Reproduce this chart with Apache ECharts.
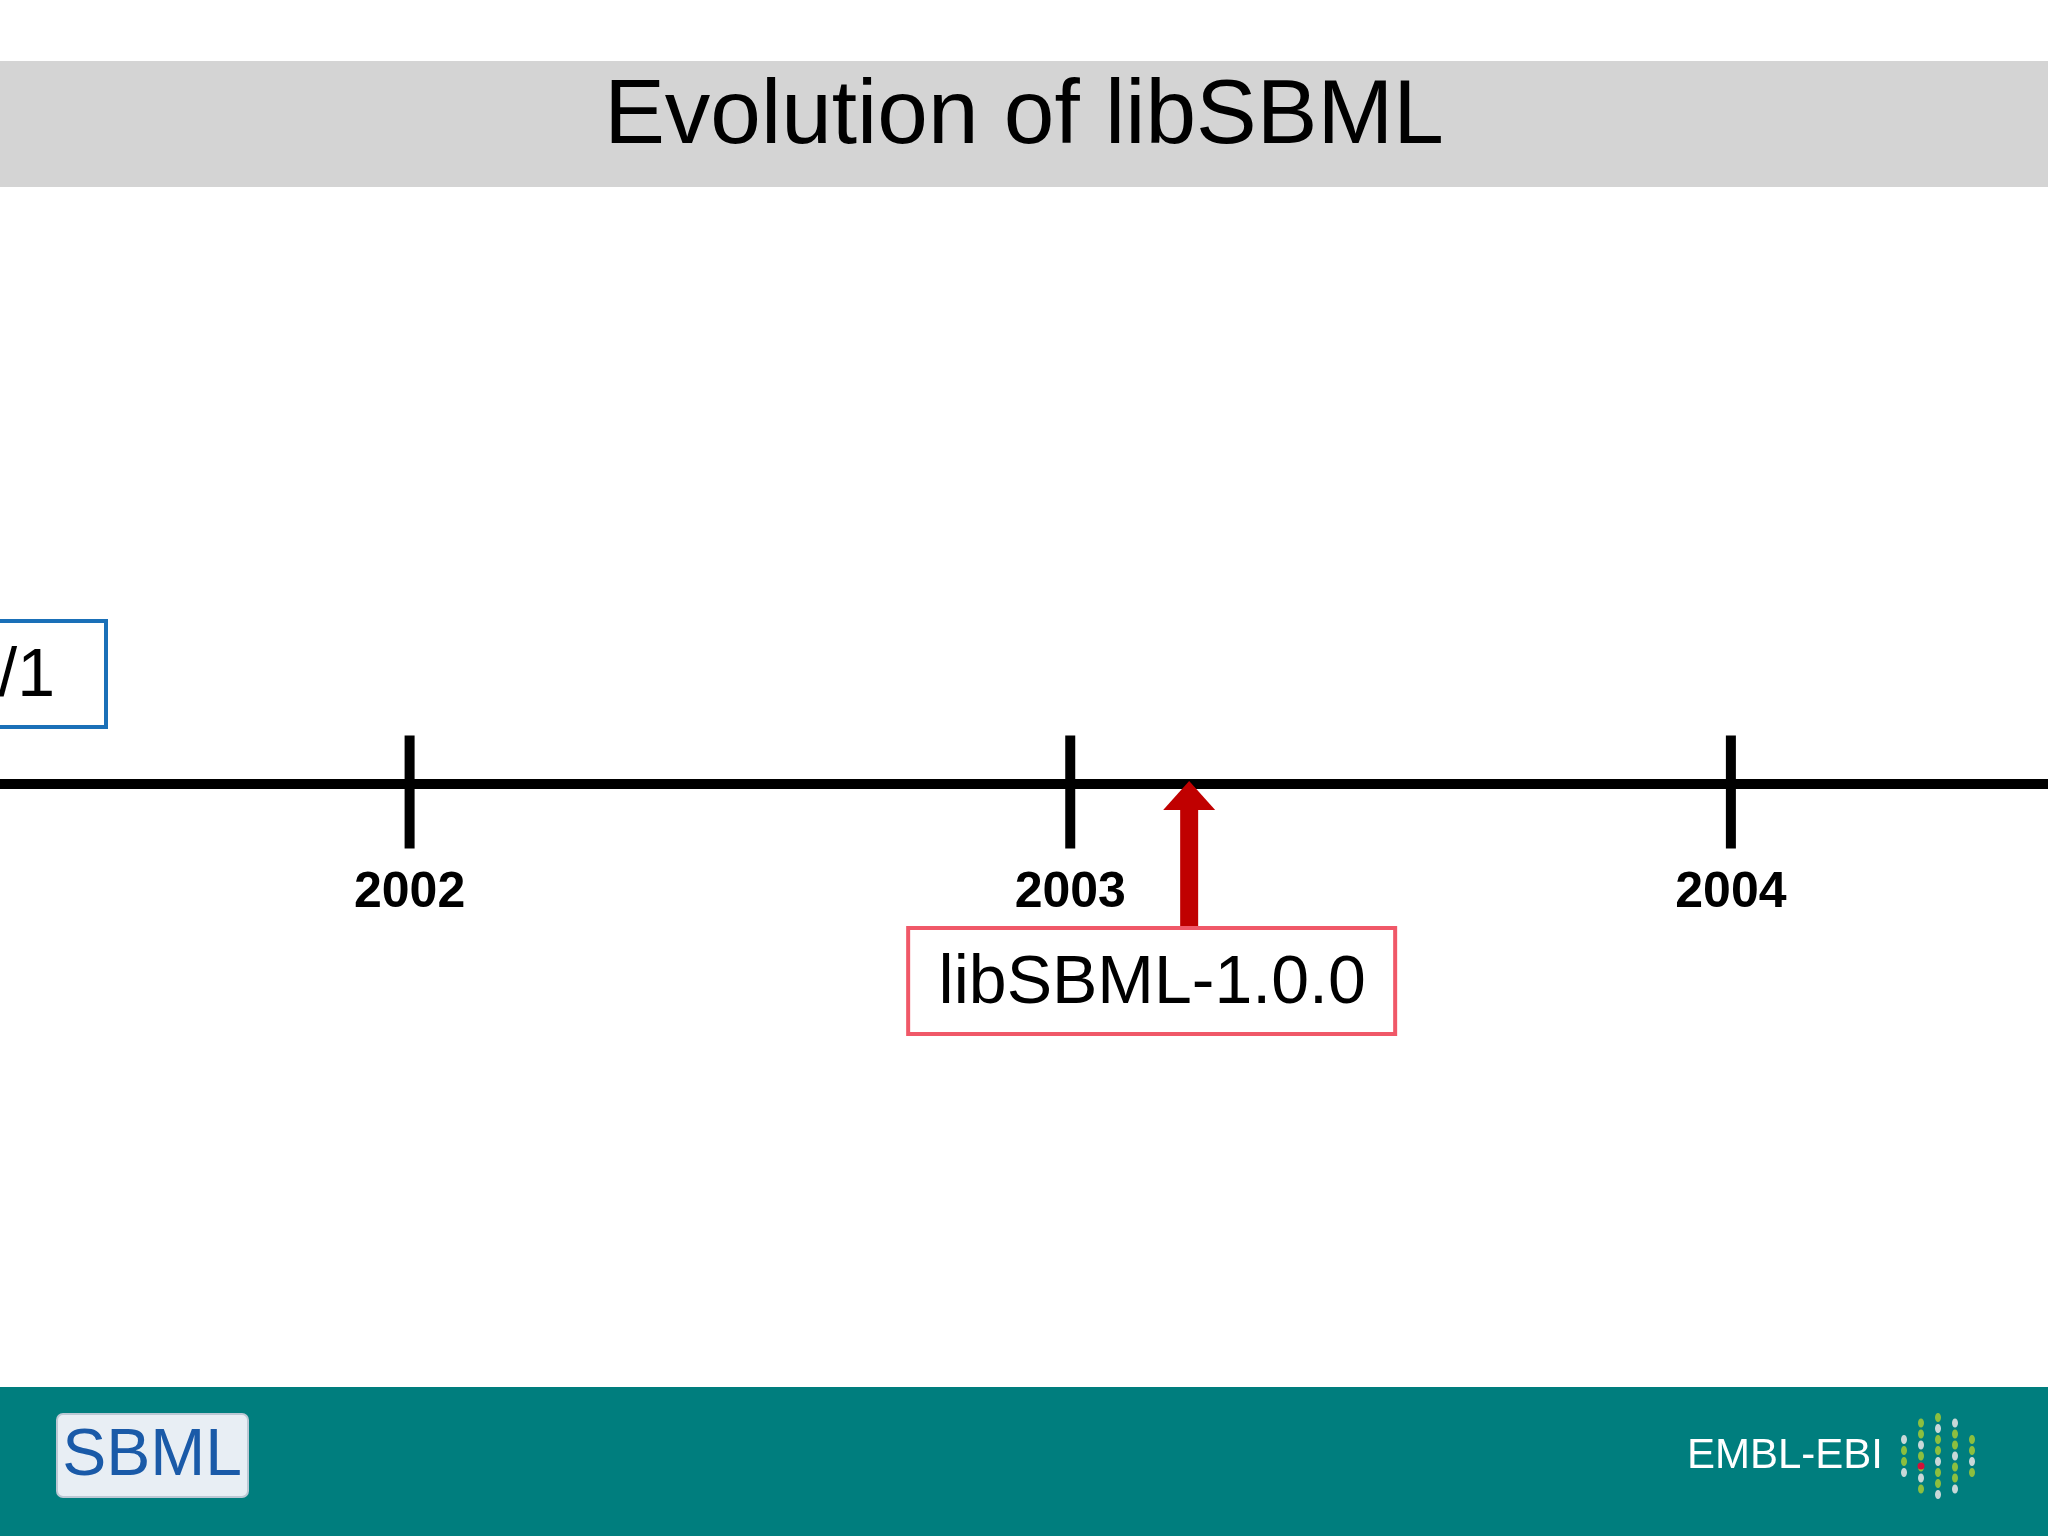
<!DOCTYPE html>
<html><head><meta charset="utf-8">
<script src="https://cdn.jsdelivr.net/npm/echarts@6/dist/echarts.min.js"></script>
<style>html,body{margin:0;padding:0;background:#fff}#c{width:2048px;height:1536px}</style>
</head><body><div id="c"></div>
<script>
const years = [2002, 2003, 2004];
const yearLabels = ['2002', '2003', '2004'];
const events = [
  { name: 'libSBML-1.0.0', year: 2003.18 }
];
const earlyEvent = { name: 'SBML L1/1', year: 2001.3 };
const title = 'Evolution of libSBML';

const chart = echarts.init(document.getElementById('c'));
const dots = [];
const cols = [4, 7, 8, 7, 4];
for (let c = 0; c < 5; c++) {
  const n = cols[c];
  for (let r = 0; r < n; r++) {
    const sp = 11;
    const h = n * sp;
    dots.push({ type: 'ellipse', shape: { cx: 1904 + c * 17, cy: 1456 - h / 2 + r * sp + sp / 2, rx: 3, ry: 4.5 },
      style: { fill: (c + r) % 3 === 0 ? '#c8d8d8' : '#8cbf3f' } });
  }
}
dots.push({ type: 'circle', shape: { cx: 1921, cy: 1466, r: 3.5 }, style: { fill: '#d0103a' } });

chart.setOption({
  animation: false,
  backgroundColor: '#fff',
  grid: { left: 0, right: 0, top: 32, bottom: 0 },
  xAxis: { type: 'value', min: 2001.38, max: 2004.48, axisLine: { show: true, onZero: true, lineStyle: { color: '#000', width: 10 } },
    axisTick: { show: false }, axisLabel: { show: false }, splitLine: { show: false } },
  yAxis: { type: 'value', min: -1, max: 1, show: false },
  graphic: [
    { type: 'rect', shape: { x: 0, y: 61, width: 2048, height: 126 }, style: { fill: '#d4d4d4' } },
    { type: 'text', x: 1024, y: 118, style: { text: title, font: '91px "Liberation Sans", Arial', fill: '#000', align: 'center', verticalAlign: 'middle' } },
    { type: 'rect', shape: { x: 0, y: 1387, width: 2048, height: 149 }, style: { fill: '#007e7e' } },
    { type: 'rect', shape: { x: 57, y: 1414, width: 191, height: 83, r: 6 }, style: { fill: '#e8eef4', stroke: '#bcc8d4', lineWidth: 2 } },
    { type: 'text', x: 152, y: 1457, style: { text: 'SBML', font: '66px "Liberation Sans"', fill: '#1a5aa8', align: 'center', verticalAlign: 'middle' } },
    { type: 'text', x: 1883, y: 1456, style: { text: 'EMBL-EBI', font: '42px "Liberation Sans"', fill: '#fff', align: 'right', verticalAlign: 'middle' } },
    ...dots
  ],
  series: [
    { type: 'scatter', data: years.map((y, i) => ({ value: [y, 0], label: { formatter: yearLabels[i] } })),
      symbol: 'rect', symbolSize: [10, 113], symbolOffset: [0, 8], itemStyle: { color: '#000', opacity: 1 },
      label: { show: true, position: 'bottom', distance: 20, color: '#000', fontSize: 50, fontWeight: 'bold', fontFamily: 'Liberation Sans' }, z: 3 },
    { type: 'custom', coordinateSystem: 'cartesian2d', data: events.map(e => [e.year, 0]),
      renderItem: function (params, api) {
        const p = api.coord([api.value(0), 0]);
        const ev = events[params.dataIndex];
        return { type: 'group', children: [
          { type: 'rect', shape: { x: p[0] - 9, y: p[1] + 24, width: 18, height: 120 }, style: { fill: '#c00000' } },
          { type: 'polygon', shape: { points: [[p[0], p[1] - 3], [p[0] - 26, p[1] + 26], [p[0] + 26, p[1] + 26]] }, style: { fill: '#c00000' } },
          { type: 'rect', shape: { x: p[0] - 281, y: p[1] + 144, width: 487, height: 106 }, style: { fill: '#fff', stroke: '#f05868', lineWidth: 4 } },
          { type: 'text', x: p[0] - 37, y: p[1] + 200, style: { text: ev.name, font: '68px "Liberation Sans"', fill: '#000', align: 'center', verticalAlign: 'middle' } }
        ] };
      }, z: 4 },
    { type: 'custom', coordinateSystem: 'cartesian2d', data: [[earlyEvent.year, 0]],
      renderItem: function (params, api) {
        return { type: 'group', children: [
          { type: 'rect', shape: { x: -200, y: 621, width: 306, height: 106 }, style: { fill: '#fff', stroke: '#1a70b8', lineWidth: 4 } },
          { type: 'text', x: 55, y: 677, style: { text: earlyEvent.name, font: '68px "Liberation Sans"', fill: '#000', align: 'right', verticalAlign: 'middle' } }
        ] };
      }, z: 4 }
  ]
});
</script></body></html>
